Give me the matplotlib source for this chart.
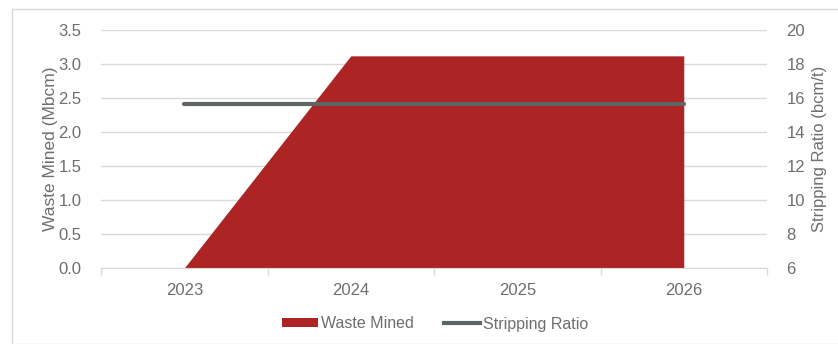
import matplotlib
matplotlib.use("Agg")
import matplotlib.pyplot as plt
from matplotlib.patches import Rectangle, Patch
from matplotlib.lines import Line2D

plt.rcParams['font.family'] = ['Liberation Sans', 'DejaVu Sans']

years = ["2023", "2024", "2025", "2026"]
waste_mined = [0.0, 3.12, 3.12, 3.12]          # Mbcm
stripping_ratio = [15.65, 15.65, 15.65, 15.65]  # bcm/t

RED = "#AD2424"
GREY_LINE = "#5E6567"
TEXT = "#6E6E6E"
GRID = "#D9D9D9"
FS = 12

W, H = 838, 344
fig = plt.figure(figsize=(W / 100, H / 100), dpi=100)

# outer frame
fig.patches.append(Rectangle((12 / W, 0), 1.0, 1 - 9 / H, transform=fig.transFigure,
                             fill=False, edgecolor=GRID, linewidth=1.0))

left, right = 101 / W, 767 / W
bottom, top = 1 - 268 / H, 1 - 30 / H
ax = fig.add_axes([left, bottom, right - left, top - bottom])
ax2 = ax.twinx()

x = list(range(len(years)))
ax.fill_between(x, waste_mined, 0, color=RED, linewidth=0, zorder=2)
ax.set_xlim(-0.5, len(years) - 0.5)
ax.set_ylim(0, 3.5)
ax.set_yticks([i * 0.5 for i in range(8)])
ax.set_yticklabels([f"{i * 0.5:.1f}" for i in range(8)])
ax.yaxis.grid(True, color=GRID, linewidth=1.0, zorder=0)
ax.set_axisbelow(True)

ax.set_xticks(x)
ax.set_xticklabels(years)
ax.set_xticks([i - 0.5 for i in range(len(years) + 1)], minor=True)
ax.tick_params(axis='x', which='major', length=0, pad=11, labelsize=FS, labelcolor=TEXT)
ax.tick_params(axis='x', which='minor', length=5, color=GRID, width=1.0)
ax.tick_params(axis='y', length=0, pad=14, labelsize=FS, labelcolor=TEXT)

for s in ['top', 'left', 'right']:
    ax.spines[s].set_visible(False)
    ax2.spines[s].set_visible(False)
ax.spines['bottom'].set_color(GRID)
ax2.spines['bottom'].set_visible(False)

ax2.plot(x, stripping_ratio, color=GREY_LINE, linewidth=3.0, solid_capstyle='round', zorder=3)
ax2.set_ylim(6, 20)
ax2.set_yticks(range(6, 21, 2))
ax2.tick_params(axis='y', length=0, pad=14, labelsize=FS, labelcolor=TEXT)

ax.set_ylabel("Waste Mined (Mbcm)", fontsize=FS + 0.5, color=TEXT, labelpad=0.5)
ax2.set_ylabel("Stripping Ratio (bcm/t)", fontsize=FS, color=TEXT, labelpad=5)

handles = [Patch(facecolor=RED, edgecolor='none'),
           Line2D([0], [0], color=GREY_LINE, linewidth=3.0)]
fig.legend(handles, ["Waste Mined", "Stripping Ratio"], loc='center',
           bbox_to_anchor=(435 / W, 1 - 324 / H), ncol=2, frameon=False,
           fontsize=FS - 0.5, labelcolor=TEXT, handlelength=2.25, handleheight=0.5,
           handletextpad=0.2, columnspacing=1.9)

fig.savefig("out.png", dpi=100)
